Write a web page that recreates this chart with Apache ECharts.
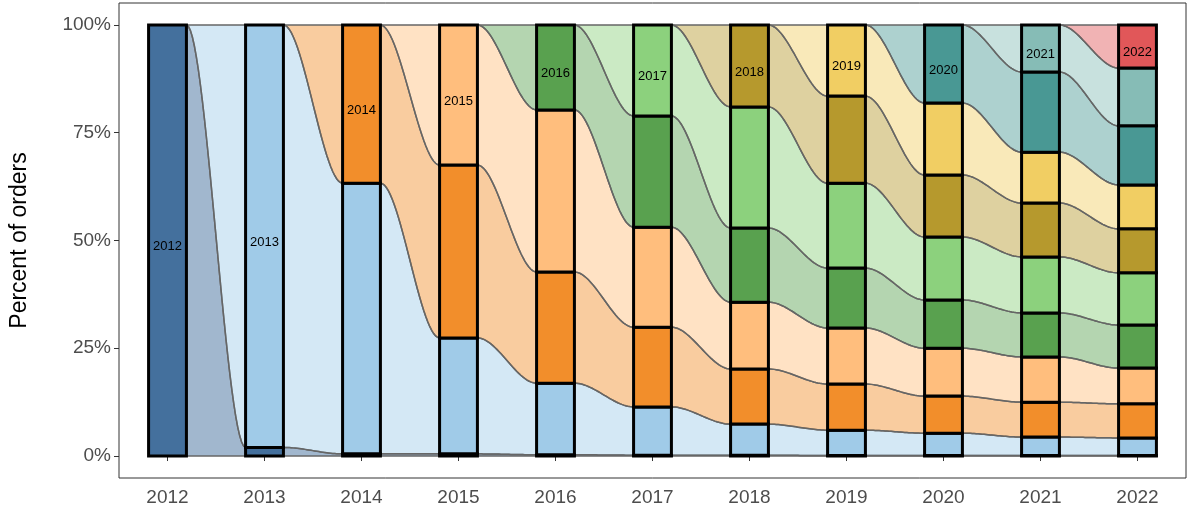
<!DOCTYPE html>
<html lang="en">
<head>
    <meta charset="UTF-8">
    <title>Cohort alluvial</title>
    <script src="https://cdn.jsdelivr.net/npm/echarts@6/dist/echarts.min.js"></script>
    <style>
        body { margin: 0; background: #fff; }
        #main { width: 1200px; height: 513px; }
    </style>
</head>
<body>
    <div id="main"></div>
    <script>
        const years = ['2012', '2013', '2014', '2015', '2016', '2017', '2018', '2019', '2020', '2021', '2022'];
        const yTicks = [0, 25, 50, 75, 100];

        // share (%) of orders in each year, one array per customer cohort
        const c2012 = [100, 2, 0.5, 0.5, 0.3, 0.2, 0.2, 0.1, 0.1, 0.1, 0.1];
        const c2013 = [0, 98, 62.8, 26.9, 16.6, 11.2, 7.2, 5.9, 5.2, 4.3, 4.1];
        const c2014 = [0, 0, 36.7, 40.1, 25.8, 18.5, 12.8, 10.7, 8.6, 8.1, 7.9];
        const c2015 = [0, 0, 0, 32.5, 37.6, 23.2, 15.5, 13, 11.1, 10.5, 8.3];
        const c2016 = [0, 0, 0, 0, 19.7, 25.8, 17.2, 13.9, 11.2, 10.2, 10];
        const c2017 = [0, 0, 0, 0, 0, 21.1, 28.1, 19.7, 14.6, 13, 12.1];
        const c2018 = [0, 0, 0, 0, 0, 0, 19.0, 20.2, 14.4, 12.5, 10.2];
        const c2019 = [0, 0, 0, 0, 0, 0, 0, 16.5, 16.7, 11.8, 10.2];
        const c2020 = [0, 0, 0, 0, 0, 0, 0, 0, 18.1, 18.6, 13.7];
        const c2021 = [0, 0, 0, 0, 0, 0, 0, 0, 0, 10.9, 13.4];
        const c2022 = [0, 0, 0, 0, 0, 0, 0, 0, 0, 0, 10];

        const cohorts = [c2012, c2013, c2014, c2015, c2016, c2017, c2018, c2019, c2020, c2021, c2022];
        const colors = ['#44709d', '#a0cbe8', '#f28e2b', '#ffbe7d', '#59a14f', '#8cd17d',
            '#b6992d', '#f1ce63', '#499894', '#86bcb6', '#e15759'];

        // stacked bottoms/tops, oldest cohort at the bottom
        const lo = cohorts.map(() => []), hi = cohorts.map(() => []);
        years.forEach((y, j) => {
            let acc = 0;
            cohorts.forEach((c, i) => {
                lo[i][j] = acc;
                acc += c[j];
                hi[i][j] = j === i ? 100 : acc;
            });
        });

        const flowData = [], barData = [];
        cohorts.forEach((c, i) => {
            years.forEach((y, j) => {
                if (j >= i) barData.push([j, i]);
                if (j >= i - 1 && j < years.length - 1) flowData.push([j, i]);
            });
        });

        const BW = 0.39;

        function curve(x0, y0, x1, y1, n) {
            const pts = [];
            for (let k = 0; k <= n; k++) {
                const t = k / n, s = t * t * (3 - 2 * t);
                pts.push([x0 + (x1 - x0) * t, y0 + (y1 - y0) * s]);
            }
            return pts;
        }

        function renderFlow(params, api) {
            const j = api.value(0), i = api.value(1);
            const half = api.size([1, 0])[0] * BW / 2;
            const a0 = api.coord([j, lo[i][j]]), a1 = api.coord([j, hi[i][j]]);
            const b0 = api.coord([j + 1, lo[i][j + 1]]), b1 = api.coord([j + 1, hi[i][j + 1]]);
            const xa = a0[0] + half, xb = b0[0] - half;
            const top = curve(xa, a1[1], xb, b1[1], 30);
            const bot = curve(xa, a0[1], xb, b0[1], 30).reverse();
            return {
                type: 'group',
                children: [
                    { type: 'polygon', shape: { points: top.concat(bot) },
                      style: { fill: colors[i], opacity: i === 0 ? 0.5 : 0.45 } },
                    { type: 'polyline', shape: { points: top },
                      style: { stroke: '#666', lineWidth: 1.5, fill: null } },
                    { type: 'polyline', shape: { points: bot },
                      style: { stroke: '#666', lineWidth: 1.5, fill: null } }
                ]
            };
        }

        function renderBar(params, api) {
            const j = api.value(0), i = api.value(1);
            const w = api.size([1, 0])[0] * BW;
            const p0 = api.coord([j, lo[i][j]]), p1 = api.coord([j, hi[i][j]]);
            const children = [{
                type: 'rect',
                shape: { x: p0[0] - w / 2, y: p1[1], width: w, height: p0[1] - p1[1] },
                style: { fill: colors[i], stroke: '#000', lineWidth: 3 }
            }];
            if (i === j) {
                children.push({
                    type: 'text',
                    style: { text: years[i], x: p0[0], y: (p0[1] + p1[1]) / 2 + 6,
                        fill: '#000', fontSize: 13, align: 'center', verticalAlign: 'middle',
                        fontFamily: 'Liberation Sans' }
                });
            }
            return { type: 'group', children: children };
        }

        const chart = echarts.init(document.getElementById('main'));
        chart.setOption({
            animation: false,
            grid: { left: 119, right: 14, top: 3, bottom: 35, containLabel: false, show: true,
                borderColor: '#333', borderWidth: 1 },
            xAxis: {
                type: 'category', data: years, boundaryGap: true,
                axisLine: { show: false },
                axisTick: { show: true, alignWithLabel: true, length: 5, lineStyle: { color: '#333' } },
                axisLabel: { color: '#4d4d4d', fontSize: 19, margin: 10, fontFamily: 'Liberation Sans' }
            },
            yAxis: {
                type: 'value', min: -5.1, max: 105.1,
                name: 'Percent of orders', nameLocation: 'middle', nameGap: 88, nameRotate: 90,
                nameTextStyle: { fontSize: 23, color: '#000', fontFamily: 'Liberation Sans' },
                splitLine: { show: false }, axisLine: { show: false },
                axisLabel: {
                    color: '#4d4d4d', fontSize: 19, fontFamily: 'Liberation Sans',
                    customValues: yTicks, formatter: v => v + '%'
                },
                axisTick: { show: true, length: 5, customValues: yTicks, lineStyle: { color: '#333' } }
            },
            series: [
                { type: 'custom', renderItem: renderFlow, data: flowData, z: 1, clip: false },
                { type: 'custom', renderItem: renderBar, data: barData, z: 2, clip: false }
            ]
        });
    </script>
</body>
</html>
